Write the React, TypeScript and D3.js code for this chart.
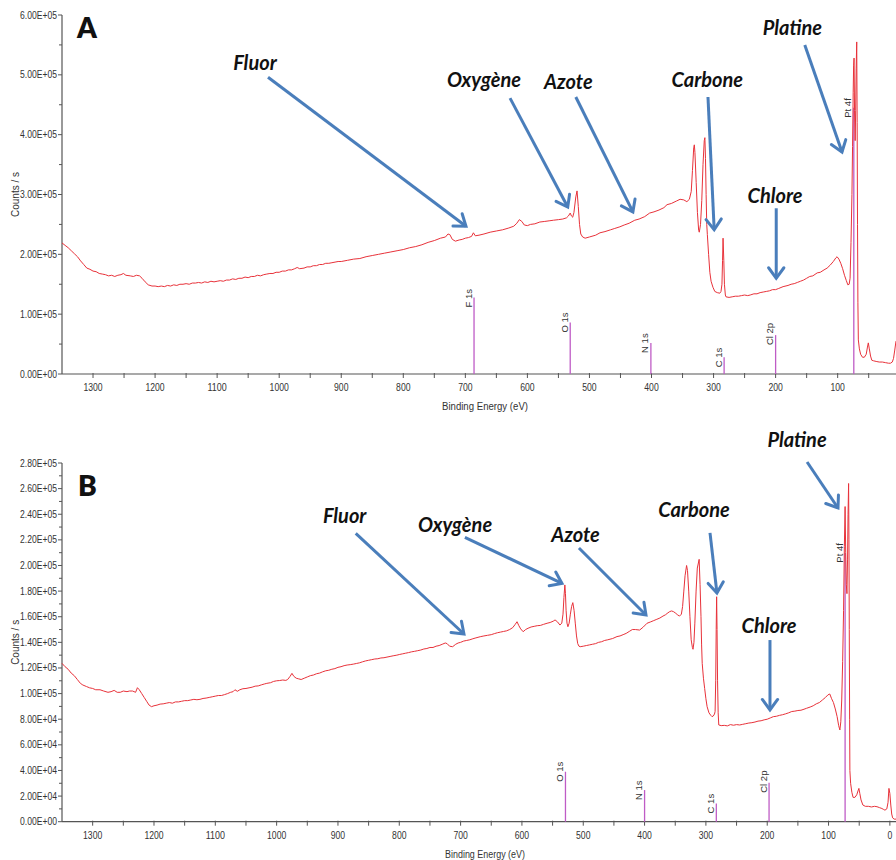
import React from "react";
import * as d3 from "d3";

const W = 896;
const H = 860;

// ---------- Spectrum A: [binding energy (eV), counts/s in thousands] ----------
const spectrumA: [number, number][] = [
  [1350,219],[1345,215],[1340,211],[1335,206],[1330,201],[1325,196],[1320,189],[1315,183],[1310,177],[1305,175],[1300,172],[1295,171],[1290,168],[1285,167],[1280,166],[1275,164],[1270,165],[1265,163],[1260,165],[1255,166],[1251,168],[1247,165],[1240,164],[1235,163],[1230,165],[1225,164],[1221,160],[1216,154],[1211,149],[1205,147],[1200,147],[1195,146],[1190,147],[1185,146],[1180,148],[1175,147],[1170,149],[1165,148],[1160,150],[1155,150],[1150,151],[1145,150],[1140,152],[1135,152],[1130,153],[1125,152],[1120,154],[1115,153],[1110,155],[1105,154],[1100,155],[1095,156],[1090,155],[1085,157],[1080,157],[1075,159],[1070,158],[1065,160],[1060,160],[1055,162],[1050,161],[1045,163],[1040,163],[1035,165],[1030,164],[1025,166],[1020,167],[1015,168],[1010,168],[1005,170],[1000,170],[995,172],[990,172],[985,174],[980,174],[975,176],[971,178],[967,176],[960,177],[955,179],[950,179],[945,181],[940,181],[935,183],[930,183],[925,185],[920,185],[915,186],[910,187],[905,188],[900,188],[890,190],[880,192],[870,193],[860,196],[850,198],[840,200],[830,202],[820,204],[810,206],[800,208],[790,211],[780,213],[770,216],[760,220],[750,223],[740,227],[732,229],[728,234],[725,233],[721,225],[716,222],[710,224],[705,225],[700,227],[695,228],[690,230],[687,236],[684,231],[678,232],[670,234],[660,237],[650,239],[640,241],[630,244],[622,247],[617,252],[613,258],[609,255],[605,249],[600,248],[595,250],[588,251],[580,254],[572,255],[565,256],[558,257],[550,258],[543,259],[537,261],[534,264],[531,269],[529,264],[527,262],[525,270],[522,296],[520,306],[518,280],[516,250],[514,234],[511,229],[507,227],[500,229],[490,232],[483,236],[475,238],[466,241],[460,243],[451,246],[444,249],[436,252],[427,257],[420,259],[411,263],[403,269],[396,271],[388,274],[380,278],[375,283],[368,285],[360,289],[354,292],[348,291],[343,288],[339,292],[336,305],[334,340],[332,378],[331,383],[330,370],[328,320],[326,270],[324,240],[323,237],[321,250],[319,290],[317,350],[315,390],[314,395],[313,360],[312,300],[311,250],[310,233],[308,200],[306,170],[304,155],[301,145],[298,138],[294,136],[290,135],[288,138],[286.5,150],[285.5,190],[284.7,227],[283.5,190],[282.5,150],[281,132],[280,129],[275,128],[270,129],[265,130],[260,130],[255,131],[250,132],[245,131],[241,132],[235,134],[230,134],[225,136],[220,137],[215,138],[210,139],[205,141],[200,141],[195,143],[188,146],[180,148],[175,150],[170,151],[165,153],[160,155],[155,157],[150,160],[145,163],[140,164],[133,169],[128,170],[122,174],[117,177],[112,182],[107,188],[103,194],[101,196],[98,192],[95,185],[92,176],[89,165],[86,156],[83.6,149],[81.5,150],[80,160],[78.5,220],[77,300],[76,380],[75,470],[74.3,515],[73.6,528],[72.8,440],[71.8,390],[71,440],[70.2,510],[69.3,555],[68.6,420],[68,250],[67.4,120],[66.7,57],[65,42],[63,33],[60,28],[57,28],[54,33],[52,45],[50.6,52],[49,42],[47,30],[45,23],[42,22],[38,21],[33,20],[28,20],[23,19],[18,18],[15,18],[12,20],[10,26],[8,40],[6,55]
];

// ---------- Spectrum B ----------
const spectrumB: [number, number][] = [
  [1350,123.6],[1345,121],[1340,119],[1335,116],[1330,114],[1325,111],[1320,108],[1316,106.7],[1310,105.5],[1305,104.5],[1300,104],[1295,103],[1288,103],[1282,102],[1275,101],[1270,101.5],[1265,102.5],[1260,101],[1255,101],[1250,102],[1244,101.5],[1240,102],[1235,102],[1230,101],[1227,104.6],[1224,103],[1220,100],[1216,97],[1212,94],[1208,91],[1204,89.8],[1200,90.5],[1195,91],[1190,91.8],[1185,92],[1180,92.5],[1175,93],[1170,92.5],[1165,93.5],[1160,93.5],[1155,94],[1150,94.5],[1145,94.5],[1140,95],[1135,95.5],[1130,95.2],[1125,95.5],[1120,96.2],[1115,96.5],[1110,97],[1105,97.5],[1100,98],[1095,98.5],[1090,98.5],[1085,99.2],[1080,100],[1075,101],[1071,101.5],[1068,103],[1064,101.8],[1060,103],[1055,103.8],[1050,104],[1045,104.5],[1040,105],[1035,105.8],[1030,106],[1025,106.8],[1020,107.5],[1016,108],[1010,108.5],[1005,109.5],[1000,110],[995,110.2],[990,110.6],[985,110.3],[982,111],[978,113.5],[975,115.8],[972,113.5],[968,112],[964,111.5],[960,111],[955,112],[950,113],[945,114],[940,114.5],[935,115.5],[930,116],[925,117],[920,117.8],[915,118.2],[910,119],[905,119.5],[900,120.5],[895,121],[890,121.8],[885,122.3],[880,122.6],[875,123],[870,123.5],[865,124],[860,124.8],[855,125.5],[850,126],[845,126.5],[840,127],[835,127.2],[830,127.8],[825,128],[820,128.5],[815,129],[810,129.5],[804,130],[800,130.5],[795,131],[790,131.5],[785,132],[780,132.6],[775,133],[770,133.5],[765,134],[760,134.8],[755,135.2],[750,136],[745,136],[740,137],[735,137.5],[730,138.5],[725,139.5],[722,139],[718,137],[713,136.6],[708,138.5],[704,139.5],[700,140],[695,141],[690,141.5],[685,142],[680,142.8],[675,143.5],[668,144.4],[662,145],[656,145.5],[650,146],[645,146.8],[640,147.5],[635,148],[630,148.5],[625,149],[620,150],[615,151.5],[611,154],[608,156.1],[605,153],[602,150.5],[598,148.3],[594,150],[590,151],[585,152],[580,152.5],[575,153],[570,153.2],[565,154],[559,154.9],[554,155.5],[549,156.5],[546,157.5],[542,156],[538,153.5],[535,155],[533,162],[531.5,175],[530,184.8],[529,178],[528,165],[526.5,155],[525,152.2],[523,155],[521,162],[519,168],[517,171],[515,165],[513,155],[511,145],[509,139],[507,137],[505,136.6],[500,137],[495,137.5],[490,138],[485,138.5],[480,139],[475,140],[470,140.5],[465,141.5],[460,142],[452,143],[445,144.5],[440,145],[435,146],[430,147],[425,148.5],[420,150],[415,150],[408,149.6],[402,152],[396,154.9],[390,156],[385,157],[380,158],[375,159],[370,160.5],[366,161.5],[362,163],[359,164],[356,164.5],[353,164],[350,163],[346,161.4],[343,160.5],[340,162],[338,168],[336,180],[334,192],[331.5,200],[330,196],[328,180],[326,160],[324,142],[322,136],[321,134.6],[319.5,140],[318,155],[316,180],[314,198],[311,204.8],[309.5,185],[308,160],[307,138],[306,123.6],[304,112],[302,104],[300,96],[298,89.8],[295,85],[292,83],[290,82],[288,82.5],[286,84],[285,86],[284,110],[283.2,150],[282.5,175.6],[281.8,150],[281,110],[280,85],[279,75.5],[275,75],[270,75.2],[265,74.8],[260,75.8],[255,75.3],[250,75.8],[245,75.5],[240,76],[235,76.5],[230,77],[225,77.3],[220,77.8],[215,78.5],[210,78.8],[205,79.5],[200,80],[195,81],[190,82],[185,82.3],[180,83],[175,83.5],[170,84.2],[165,85],[160,86],[155,86.3],[150,86.8],[145,87],[140,87.8],[136,88.5],[130,89.5],[125,90.5],[120,92],[115,93],[110,95],[105,97],[101,99],[98,99.7],[95,96],[92,93],[89,88],[86,82],[83.5,75],[81.5,71.6],[80,78],[78.5,95],[77,125],[75.5,165],[74.2,215],[73,246],[72,210],[71,185],[70,178],[69,205],[68.2,240],[67.3,264],[66.7,220],[66.2,150],[65.6,80],[65.2,40],[64,30],[62,23],[60,19],[57,19],[54,21],[52,24],[50.5,26],[49,22],[47,17],[44,13],[40,12],[35,12],[30,11.5],[25,12],[21,11.7],[17,11],[13,10.3],[10,9.5],[8,9],[5,10],[3,15],[1.5,26],[0,22],[-1.5,13],[-3,6],[-4.5,3],[-7,2],[-10,2]
];

// ---------- Reference peak markers ----------
const peakNamesA = ["F 1s", "O 1s", "N 1s", "C 1s", "Cl 2p", "Pt 4f"];
const peakEnergyA = [686, 531, 401, 283, 200, 74];
const peakHeightA = [128, 86, 52, 28, 65, 445];

const peakNamesB = ["O 1s", "N 1s", "C 1s", "Cl 2p", "Pt 4f"];
const peakEnergyB = [529, 400, 283, 197, 73];
const peakHeightB = [39, 24.7, 14.3, 30.4, 210];

// ---------- Ticks ----------
const xTickLabelsA = [1300, 1200, 1100, 1000, 900, 800, 700, 600, 500, 400, 300, 200, 100];
const xMinorA = [1250, 1150, 1050, 950, 850, 750, 650, 550, 450, 350, 250, 150, 50];
const xTickLabelsB = [1300, 1200, 1100, 1000, 900, 800, 700, 600, 500, 400, 300, 200, 100, 0];
const xMinorB = [1250, 1150, 1050, 950, 850, 750, 650, 550, 450, 350, 250, 150, 50];
const yTicksA = [0, 100, 200, 300, 400, 500, 600];
const yMinorA = [50, 150, 250, 350, 450, 550];
const yTicksB = [0, 20, 40, 60, 80, 100, 120, 140, 160, 180, 200, 220, 240, 260, 280];
const yMinorB = [10, 30, 50, 70, 90, 110, 130, 150, 170, 190, 210, 230, 250, 270];

// ---------- Annotations (data coordinates: eV, k counts) ----------
const labelsA = ["Fluor", "Oxygène", "Azote", "Carbone", "Chlore", "Platine"];
const labelPosA: [number, number][] = [[1039, 508], [670, 480], [534, 476], [310, 480], [201, 286], [173, 567]];
const arrowFromA: [number, number][] = [[1018, 496], [628, 461], [522, 463], [309, 463], [199, 277], [153, 550]];
const arrowToA: [number, number][] = [[699, 247], [535, 279], [430, 271], [299, 241], [199, 160], [93, 371]];

const labelsB = ["Fluor", "Oxygène", "Azote", "Carbone", "Chlore", "Platine"];
const labelPosB: [number, number][] = [[889, 233], [709, 226], [512.6, 218], [319.4, 237.9], [197, 147.3], [151.4, 292.5]];
const arrowFromB: [number, number][] = [[871, 225], [693, 222], [507, 213.6], [293.3, 225.4], [195.5, 141.8], [135, 280.8]];
const arrowToB: [number, number][] = [[694.5, 146.5], [534.7, 186], [397.7, 161.3], [282, 178.5], [195.5, 87.2], [84.6, 244.9]];

const letterPosA: [number, number] = [1326, 562];
const letterPosB: [number, number] = [1324, 254];

const RED = "#e8323a";
const PURPLE = "#bf5cc6";
const BLUE = "#4a7ebb";
const AXIS = "#555";
const TXT = "#333";
const SANS = "Liberation Sans, Arial, sans-serif";

function fmtE(vk: number): string {
  const v = vk * 1000;
  if (v === 0) return "0.00E+00";
  const e = Math.floor(Math.log10(v) + 1e-9);
  const m = v / Math.pow(10, e);
  return m.toFixed(2) + "E+" + String(e).padStart(2, "0");
}

type PanelProps = {
  letter: string;
  letterPos: [number, number];
  data: [number, number][];
  xDomain: [number, number];
  yMax: number;
  yTop: number;
  yBottom: number;
  xTicks: number[];
  xMinor: number[];
  yTicks: number[];
  yMinor: number[];
  peakNames: string[];
  peakEnergy: number[];
  peakHeight: number[];
  labels: string[];
  labelPos: [number, number][];
  arrowFrom: [number, number][];
  arrowTo: [number, number][];
  titleWidth: number;
};

function Arrow({ x1, y1, x2, y2 }: { x1: number; y1: number; x2: number; y2: number }) {
  const ang = Math.atan2(y2 - y1, x2 - x1);
  const L = 13;
  const spread = (36 * Math.PI) / 180;
  const ax = x2 - L * Math.cos(ang - spread);
  const ay = y2 - L * Math.sin(ang - spread);
  const bx = x2 - L * Math.cos(ang + spread);
  const by = y2 - L * Math.sin(ang + spread);
  return (
    <g stroke={BLUE} strokeWidth={3} fill="none" strokeLinecap="round" strokeLinejoin="miter">
      <line x1={x1} y1={y1} x2={x2} y2={y2} strokeLinecap="butt" />
      <polyline points={`${ax},${ay} ${x2},${y2} ${bx},${by}`} />
    </g>
  );
}

function Panel(p: PanelProps) {
  const x = d3.scaleLinear().domain(p.xDomain).range([62, 896]);
  const y = d3.scaleLinear().domain([0, p.yMax]).range([p.yBottom, p.yTop]);
  const line = d3
    .line<[number, number]>()
    .x((d) => x(d[0]))
    .y((d) => y(d[1]));
  const y0 = p.yBottom;
  return (
    <g>
      <line x1={62} x2={62} y1={p.yTop} y2={y0} stroke={AXIS} strokeWidth={1.2} />
      <line x1={62} x2={896} y1={y0} y2={y0} stroke={AXIS} strokeWidth={1.2} />
      {p.yTicks.map((t) => (
        <g key={"yt" + t}>
          <line x1={58} x2={62} y1={y(t)} y2={y(t)} stroke={AXIS} strokeWidth={1} />
          <text x={57} y={y(t) + 3.5} textAnchor="end" fontSize={10} fontFamily={SANS} fill={TXT}
            textLength={37} lengthAdjust="spacingAndGlyphs">
            {fmtE(t)}
          </text>
        </g>
      ))}
      {p.yMinor.map((t) => (
        <line key={"ym" + t} x1={59} x2={62} y1={y(t)} y2={y(t)} stroke={AXIS} strokeWidth={1} />
      ))}
      {p.xTicks.map((t) => (
        <g key={"xt" + t}>
          <line x1={x(t)} x2={x(t)} y1={y0 - 1} y2={y0 + 4} stroke={AXIS} strokeWidth={1} />
          <text x={x(t)} y={y0 + 17} textAnchor="middle" fontSize={10} fontFamily={SANS} fill={TXT}
            textLength={String(t).length * 4.8} lengthAdjust="spacingAndGlyphs">
            {t}
          </text>
        </g>
      ))}
      {p.xMinor.map((t) => (
        <line key={"xm" + t} x1={x(t)} x2={x(t)} y1={y0 - 1} y2={y0 + 4} stroke={AXIS} strokeWidth={1} />
      ))}
      <text x={(62 + 896) / 2 + 6} y={y0 + 36} textAnchor="middle" fontSize={10} fontFamily={SANS}
        fill={TXT} textLength={p.titleWidth} lengthAdjust="spacingAndGlyphs">
        Binding Energy (eV)
      </text>
      <text transform={`translate(19,${(p.yTop + y0) / 2}) rotate(-90)`} textAnchor="middle"
        fontSize={10} fontFamily={SANS} fill={TXT}>
        Counts / s
      </text>
      {p.peakEnergy.map((e, i) => (
        <g key={"pk" + i}>
          <line x1={x(e)} x2={x(e)} y1={y0} y2={y(p.peakHeight[i])} stroke={PURPLE} strokeWidth={1.3} />
          <text transform={`translate(${x(e) - 2.5},${y(p.peakHeight[i]) + 10}) rotate(-90)`}
            fontSize={9.5} fontFamily={SANS} fill={TXT}>
            {p.peakNames[i]}
          </text>
        </g>
      ))}
      <path d={line(p.data) || ""} fill="none" stroke={RED} strokeWidth={1} strokeLinejoin="round" />
      <text x={x(p.letterPos[0])} y={y(p.letterPos[1])} fontSize={28} fontWeight={800}
        fontFamily="Lato, Open Sans, sans-serif" fill="#111">
        {p.letter}
      </text>
      {p.labels.map((l, i) => (
        <g key={"an" + i}>
          <text x={x(p.labelPos[i][0])} y={y(p.labelPos[i][1])} textAnchor="middle" fontSize={20}
            fontWeight={700} fontStyle="italic" fontFamily="Lato, Open Sans, sans-serif" fill="#111">
            {l}
          </text>
          <Arrow x1={x(p.arrowFrom[i][0])} y1={y(p.arrowFrom[i][1])}
            x2={x(p.arrowTo[i][0])} y2={y(p.arrowTo[i][1])} />
        </g>
      ))}
    </g>
  );
}

export default function App() {
  return (
    <svg width={W} height={H} viewBox={`0 0 ${W} ${H}`}
      style={{ position: "absolute", left: 0, top: 0, background: "#fff" }}>
      <rect width={W} height={H} fill="#fff" />
      <Panel letter="A" letterPos={letterPosA} data={spectrumA} xDomain={[1350, 6]} yMax={600}
        yTop={15} yBottom={374} xTicks={xTickLabelsA} xMinor={xMinorA} yTicks={yTicksA}
        yMinor={yMinorA} peakNames={peakNamesA} peakEnergy={peakEnergyA} peakHeight={peakHeightA}
        labels={labelsA} labelPos={labelPosA} arrowFrom={arrowFromA} arrowTo={arrowToA} titleWidth={86} />
      <Panel letter="B" letterPos={letterPosB} data={spectrumB} xDomain={[1350, -10]} yMax={280}
        yTop={463} yBottom={821.7} xTicks={xTickLabelsB} xMinor={xMinorB} yTicks={yTicksB}
        yMinor={yMinorB} peakNames={peakNamesB} peakEnergy={peakEnergyB} peakHeight={peakHeightB}
        labels={labelsB} labelPos={labelPosB} arrowFrom={arrowFromB} arrowTo={arrowToB} titleWidth={80} />
    </svg>
  );
}
